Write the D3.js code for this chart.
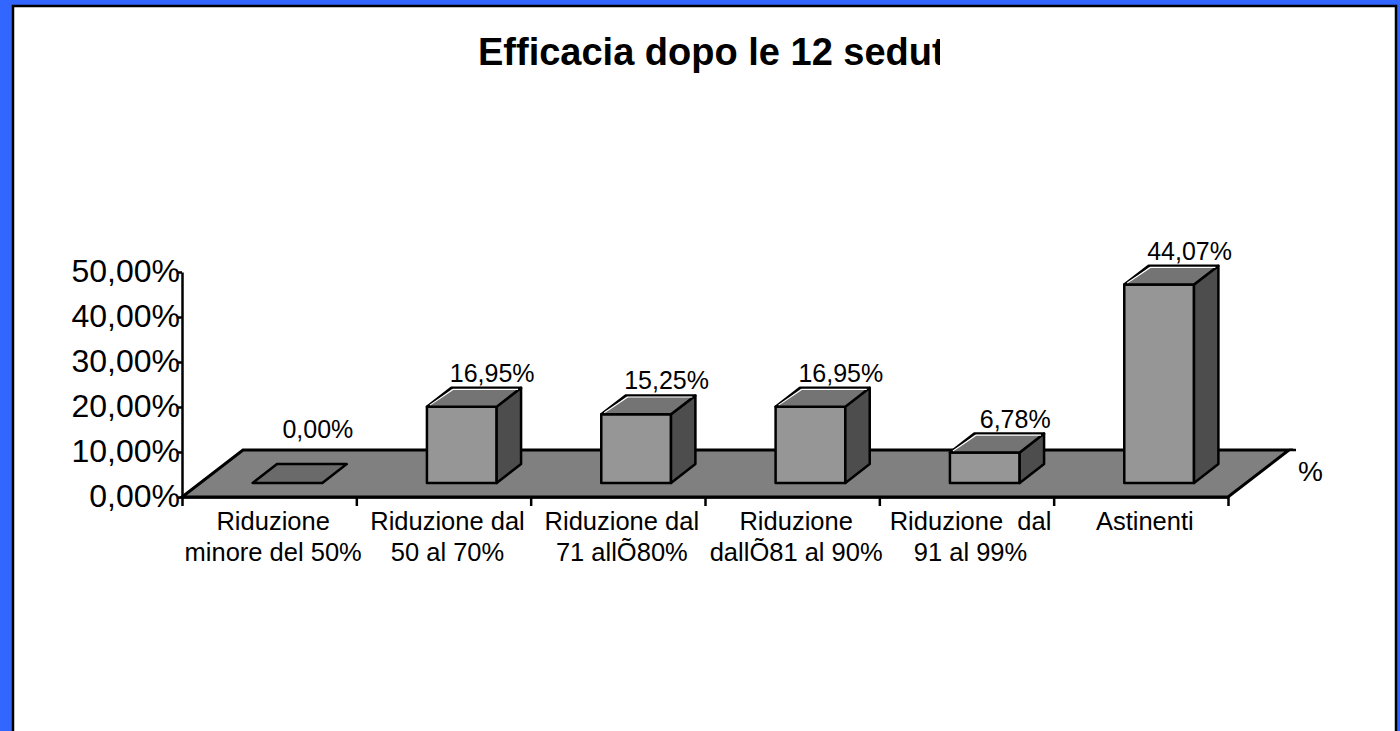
<!DOCTYPE html>
<html>
<meta charset='utf-8'>
<title>Efficacia dopo le 12 sedute</title>
<style>
  body { margin: 0; background: #3366ff; }
  svg { display: block; }
  text { font-family: 'Liberation Sans', Arial, sans-serif; fill: #000; }
  .axis path, .axis line { stroke: #000; stroke-width: 2.5; fill: none; }
</style>
<script src='https://d3js.org/d3.v7.min.js'></script>
<body>
<script>

var title = 'Efficacia dopo le 12 sedute';
var categories = [
  ['Riduzione', 'minore del 50%'],
  ['Riduzione dal', '50 al 70%'],
  ['Riduzione dal', '71 allÕ80%'],
  ['Riduzione', 'dallÕ81 al 90%'],
  ['Riduzione  dal', '91 al 99%'],
  ['Astinenti']
];
var values = [0, 16.95, 15.25, 16.95, 6.78, 44.07];
var yTicks = [0, 10, 20, 30, 40, 50];
var seriesName = '%';

var width = 1400, height = 731;
var plot = {left: 182, right: 1228, top: 272, bottom: 497};
// floor depth vector, and where the bars sit inside it
var depth = {dx: 61, dy: -47}, t0 = 0.3, t1 = 0.7;

var fmt = function(v) { return d3.format('.2f')(v).replace('.', ',') + '%'; };

var svg = d3.select('body').append('svg')
    .attr('width', width)
    .attr('height', height);

// white panel with black border
svg.append('rect')
    .attr('x', 13).attr('y', 6)
    .attr('width', 1383).attr('height', 760)
    .style('fill', '#fff')
    .style('stroke', '#000')
    .style('stroke-width', 2.5);

// title (clipped like the original text box)
svg.append('clipPath').attr('id', 'tclip')
  .append('rect').attr('x', 0).attr('y', 0).attr('width', 940).attr('height', 120);

svg.append('text')
    .attr('x', 478).attr('y', 65)
    .attr('clip-path', 'url(#tclip)')
    .style('font-size', '38px')
    .style('font-weight', 'bold')
    .text(title);

var x = d3.scaleBand()
    .domain(d3.range(categories.length))
    .range([plot.left, plot.right]);
var xEdge = d3.scaleLinear()
    .domain([0, categories.length])
    .range([plot.left, plot.right]);
var y = d3.scaleLinear()
    .domain([0, 50])
    .range([plot.bottom, plot.top]);

var bw = x.bandwidth();

// floor
var floor = [
  [plot.left, plot.bottom],
  [plot.right, plot.bottom],
  [plot.right + depth.dx, plot.bottom + depth.dy],
  [plot.left + depth.dx, plot.bottom + depth.dy]
];
svg.append('polygon')
    .attr('points', floor.map(function(p) { return p.join(','); }).join(' '))
    .style('fill', '#808080')
    .style('stroke', '#000')
    .style('stroke-width', 3)
    .style('stroke-linejoin', 'miter');

// depth axis tick
svg.append('line')
    .attr('x1', plot.right + depth.dx).attr('y1', plot.bottom + depth.dy)
    .attr('x2', plot.right + depth.dx + 7).attr('y2', plot.bottom + depth.dy)
    .style('stroke', '#000').style('stroke-width', 2.5);

// y axis
var yAxis = d3.axisLeft(y)
    .tickValues(yTicks)
    .tickSize(5)
    .tickSizeOuter(0)
    .tickPadding(-3)
    .tickFormat(function(d) { return fmt(d); });

var gy = svg.append('g')
    .attr('class', 'axis')
    .attr('transform', 'translate(' + plot.left + ',0)')
    .call(yAxis);
gy.selectAll('text')
    .attr('dy', '0.3em')
    .style('font-size', '32px')
    .style('font-family', "'Liberation Sans', Arial, sans-serif");

// x axis ticks on the front edge
var xAxis = d3.axisBottom(xEdge)
    .tickValues(d3.range(categories.length + 1))
    .tickSize(9)
    .tickSizeOuter(0)
    .tickFormat('');
svg.append('g')
    .attr('class', 'axis')
    .attr('transform', 'translate(0,' + plot.bottom + ')')
    .call(xAxis);

// category labels
var lab = svg.selectAll('.xlab')
    .data(categories)
    .enter().append('text')
    .attr('class', 'xlab')
    .attr('text-anchor', 'middle')
    .style('font-size', '25.5px')
    .style('white-space', 'pre');
lab.selectAll('tspan')
    .data(function(d, i) { return d.map(function(s) { return {s: s, i: i}; }); })
    .enter().append('tspan')
    .attr('x', function(d) { return x(d.i) + bw / 2 + 4; })
    .attr('y', function(d, j) { return 530 + j * 31; })
    .text(function(d) { return d.s; });

// 3d bars
var ddx = (t1 - t0) * depth.dx, ddy = (t1 - t0) * depth.dy;
var bars = values.map(function(v, i) {
  var x0 = x(i) + 0.3 * bw + t0 * depth.dx;
  var w = 0.4 * bw;
  var yb = plot.bottom + t0 * depth.dy;
  var yt = y(v) + t0 * depth.dy;
  return {v: v, x0: x0, w: w, yb: yb, yt: yt};
});

var pts = function(a) { return a.map(function(p) { return p.join(','); }).join(' '); };

var g = svg.selectAll('.bar')
    .data(bars)
    .enter().append('g')
    .attr('class', 'bar')
    .style('stroke', '#000')
    .style('stroke-width', 2.5)
    .style('stroke-linejoin', 'round');

g.filter(function(d) { return d.v > 0; }).append('rect')
    .attr('x', function(d) { return d.x0; })
    .attr('y', function(d) { return d.yt; })
    .attr('width', function(d) { return d.w; })
    .attr('height', function(d) { return d.yb - d.yt; })
    .style('fill', '#969696');

g.filter(function(d) { return d.v > 0; }).append('polygon')
    .attr('points', function(d) {
      return pts([[d.x0 + d.w, d.yb], [d.x0 + d.w + ddx, d.yb + ddy],
                  [d.x0 + d.w + ddx, d.yt + ddy], [d.x0 + d.w, d.yt]]);
    })
    .style('fill', '#4d4d4d');

g.append('polygon')
    .attr('points', function(d) {
      return pts([[d.x0, d.yt], [d.x0 + d.w, d.yt],
                  [d.x0 + d.w + ddx, d.yt + ddy], [d.x0 + ddx, d.yt + ddy]]);
    })
    .style('fill', function(d) { return d.v > 0 ? '#747474' : '#6a6a6a'; });

// white highlight on the top faces
g.filter(function(d) { return d.v > 0; }).append('polyline')
    .attr('points', function(d) {
      return pts([[d.x0 + 3, d.yt - 1.5], [d.x0 + ddx + 2, d.yt + ddy + 1.5],
                  [d.x0 + d.w + ddx - 3, d.yt + ddy + 1.5]]);
    })
    .style('fill', 'none')
    .style('stroke', '#fff')
    .style('stroke-width', 1.2);

// value labels
svg.selectAll('.vlab')
    .data(bars)
    .enter().append('text')
    .attr('class', 'vlab')
    .attr('text-anchor', 'middle')
    .attr('x', function(d) { return d.x0 + d.w / 2 + ddx + 6; })
    .attr('y', function(d) { return Math.min(d.yt + ddy - 6, plot.bottom + depth.dy - 12); })
    .style('font-size', '25px')
    .text(function(d) { return fmt(d.v); });

// series name on depth axis
svg.append('text')
    .attr('x', plot.right + depth.dx + 9)
    .attr('y', plot.bottom + depth.dy / 2 + 7)
    .style('font-size', '28px')
    .text(seriesName);

</script>
</body>
</html>
